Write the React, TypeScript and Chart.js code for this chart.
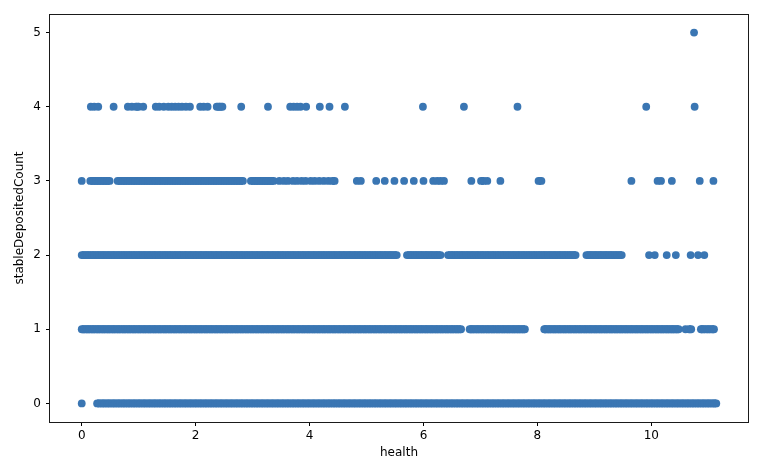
import React, { useEffect, useRef } from "react";
import { Chart, registerables } from "chart.js";

Chart.register(...registerables);

const xTicks = [0, 2, 4, 6, 8, 10];
const yTicks = [0, 1, 2, 3, 4, 5];
const xLabel = "health";
const yLabel = "stableDepositedCount";

// health values observed at each stableDepositedCount level
const healthAtCount0 = [
  0.0, 0.27, 0.31, 0.36, 0.4, 0.45, 0.49, 0.54, 0.58, 0.63, 0.67, 0.72, 0.76, 0.81, 0.85, 0.9, 0.94, 0.99, 1.03,
  1.08, 1.12, 1.17, 1.21, 1.26, 1.3, 1.35, 1.39, 1.44, 1.48, 1.53, 1.57, 1.62, 1.66, 1.71, 1.75, 1.8, 1.84, 1.89,
  1.93, 1.98, 2.02, 2.07, 2.11, 2.16, 2.2, 2.25, 2.29, 2.34, 2.38, 2.43, 2.47, 2.52, 2.56, 2.61, 2.65, 2.7, 2.74,
  2.79, 2.83, 2.88, 2.92, 2.97, 3.01, 3.06, 3.1, 3.15, 3.19, 3.24, 3.28, 3.33, 3.37, 3.42, 3.46, 3.51, 3.55, 3.6,
  3.64, 3.69, 3.73, 3.78, 3.82, 3.87, 3.91, 3.96, 4.0, 4.05, 4.09, 4.14, 4.18, 4.23, 4.27, 4.32, 4.36, 4.41, 4.45,
  4.5, 4.54, 4.59, 4.63, 4.68, 4.72, 4.77, 4.81, 4.86, 4.9, 4.95, 4.99, 5.04, 5.08, 5.13, 5.17, 5.22, 5.26, 5.31,
  5.35, 5.4, 5.44, 5.49, 5.53, 5.58, 5.62, 5.67, 5.71, 5.76, 5.8, 5.85, 5.89, 5.94, 5.98, 6.03, 6.07, 6.12, 6.16,
  6.21, 6.25, 6.3, 6.34, 6.39, 6.43, 6.48, 6.52, 6.57, 6.61, 6.66, 6.7, 6.75, 6.79, 6.84, 6.88, 6.93, 6.97, 7.02,
  7.06, 7.11, 7.15, 7.2, 7.24, 7.29, 7.33, 7.38, 7.42, 7.47, 7.51, 7.56, 7.6, 7.65, 7.69, 7.74, 7.78, 7.83, 7.87,
  7.92, 7.96, 8.01, 8.05, 8.1, 8.14, 8.19, 8.23, 8.28, 8.32, 8.37, 8.41, 8.46, 8.5, 8.55, 8.59, 8.64, 8.68, 8.73,
  8.77, 8.82, 8.86, 8.91, 8.95, 9.0, 9.04, 9.09, 9.13, 9.18, 9.22, 9.27, 9.31, 9.36, 9.4, 9.45, 9.49, 9.54, 9.58,
  9.63, 9.67, 9.72, 9.76, 9.81, 9.85, 9.9, 9.94, 9.99, 10.03, 10.08, 10.12, 10.17, 10.21, 10.26, 10.3, 10.35,
  10.39, 10.44, 10.48, 10.53, 10.57, 10.62, 10.66, 10.71, 10.75, 10.8, 10.84, 10.89, 10.93, 10.98, 11.02, 11.07,
  11.11, 11.14,
];

const healthAtCount1 = [
  0.0, 0.04, 0.09, 0.13, 0.18, 0.22, 0.27, 0.31, 0.36, 0.4, 0.45, 0.49, 0.54, 0.58, 0.63, 0.67, 0.72, 0.76, 0.81,
  0.85, 0.9, 0.94, 0.99, 1.03, 1.08, 1.12, 1.17, 1.21, 1.26, 1.3, 1.35, 1.39, 1.44, 1.48, 1.53, 1.57, 1.62, 1.66,
  1.71, 1.75, 1.8, 1.84, 1.89, 1.93, 1.98, 2.02, 2.07, 2.11, 2.16, 2.2, 2.25, 2.29, 2.34, 2.38, 2.43, 2.47, 2.52,
  2.56, 2.61, 2.65, 2.7, 2.74, 2.79, 2.83, 2.88, 2.92, 2.97, 3.01, 3.06, 3.1, 3.15, 3.19, 3.24, 3.28, 3.33, 3.37,
  3.42, 3.46, 3.51, 3.55, 3.6, 3.64, 3.69, 3.73, 3.78, 3.82, 3.87, 3.91, 3.96, 4.0, 4.05, 4.09, 4.14, 4.18, 4.23,
  4.27, 4.32, 4.36, 4.41, 4.45, 4.5, 4.54, 4.59, 4.63, 4.68, 4.72, 4.77, 4.81, 4.86, 4.9, 4.95, 4.99, 5.04, 5.08,
  5.13, 5.17, 5.22, 5.26, 5.31, 5.35, 5.4, 5.44, 5.49, 5.53, 5.58, 5.62, 5.67, 5.71, 5.76, 5.8, 5.85, 5.89, 5.94,
  5.98, 6.03, 6.07, 6.12, 6.16, 6.21, 6.25, 6.3, 6.34, 6.39, 6.43, 6.48, 6.52, 6.57, 6.61, 6.66,
  6.81, 6.84, 6.88, 6.93, 6.97, 7.02, 7.06, 7.11, 7.15, 7.2, 7.24, 7.29, 7.33, 7.38, 7.42, 7.47, 7.51, 7.56, 7.6,
  7.65, 7.69, 7.74, 7.78,
  8.12, 8.14, 8.19, 8.23, 8.28, 8.32, 8.37, 8.41, 8.46, 8.5, 8.55, 8.59, 8.64, 8.68, 8.73, 8.77, 8.82, 8.86, 8.91,
  8.95, 9.0, 9.04, 9.09, 9.13, 9.18, 9.22, 9.27, 9.31, 9.36, 9.4, 9.45, 9.49, 9.54, 9.58, 9.63, 9.67, 9.72, 9.76,
  9.81, 9.85, 9.9, 9.94, 9.99, 10.03, 10.08, 10.12, 10.17, 10.21, 10.26, 10.3, 10.35, 10.39, 10.44, 10.48,
  10.6, 10.66, 10.7,
  10.87, 10.89, 10.93, 10.98, 11.02, 11.07, 11.1,
];

const healthAtCount2 = [
  0.0, 0.04, 0.09, 0.13, 0.18, 0.22, 0.27, 0.31, 0.36, 0.4, 0.45, 0.49, 0.54, 0.58, 0.63, 0.67, 0.72, 0.76, 0.81,
  0.85, 0.9, 0.94, 0.99, 1.03, 1.08, 1.12, 1.17, 1.21, 1.26, 1.3, 1.35, 1.39, 1.44, 1.48, 1.53, 1.57, 1.62, 1.66,
  1.71, 1.75, 1.8, 1.84, 1.89, 1.93, 1.98, 2.02, 2.07, 2.11, 2.16, 2.2, 2.25, 2.29, 2.34, 2.38, 2.43, 2.47, 2.52,
  2.56, 2.61, 2.65, 2.7, 2.74, 2.79, 2.83, 2.88, 2.92, 2.97, 3.01, 3.06, 3.1, 3.15, 3.19, 3.24, 3.28, 3.33, 3.37,
  3.42, 3.46, 3.51, 3.55, 3.6, 3.64, 3.69, 3.73, 3.78, 3.82, 3.87, 3.91, 3.96, 4.0, 4.05, 4.09, 4.14, 4.18, 4.23,
  4.27, 4.32, 4.36, 4.41, 4.45, 4.5, 4.54, 4.59, 4.63, 4.68, 4.72, 4.77, 4.81, 4.86, 4.9, 4.95, 4.99, 5.04, 5.08,
  5.13, 5.17, 5.22, 5.26, 5.31, 5.35, 5.4, 5.44, 5.49, 5.53,
  5.71, 5.76, 5.8, 5.85, 5.89, 5.94, 5.98, 6.03, 6.07, 6.12, 6.16, 6.21, 6.25, 6.3,
  6.43, 6.48, 6.52, 6.57, 6.61, 6.66, 6.7, 6.75, 6.79, 6.84, 6.88, 6.93, 6.97, 7.02, 7.06, 7.11, 7.15, 7.2, 7.24,
  7.29, 7.33, 7.38, 7.42, 7.47, 7.51, 7.56, 7.6, 7.65, 7.69, 7.74, 7.78, 7.83, 7.87, 7.92, 7.96, 8.01, 8.05, 8.1,
  8.14, 8.19, 8.23, 8.28, 8.32, 8.37, 8.41, 8.46, 8.5, 8.55, 8.59, 8.64, 8.67,
  8.86, 8.91, 8.95, 9.0, 9.04, 9.09, 9.13, 9.18, 9.22, 9.27, 9.31, 9.36, 9.4, 9.45, 9.48,
  9.96, 10.06, 10.27, 10.43, 10.69, 10.82, 10.93,
];

const healthAtCount3 = [
  0.0, 0.15, 0.2, 0.25, 0.3, 0.35, 0.4, 0.45, 0.49,
  0.63, 0.67, 0.72, 0.76, 0.81, 0.85, 0.9, 0.94, 0.99, 1.03, 1.08, 1.12, 1.17, 1.21, 1.26, 1.3, 1.35, 1.39, 1.44,
  1.48, 1.53, 1.57, 1.62, 1.66, 1.71, 1.75, 1.8, 1.84, 1.89, 1.93, 1.98, 2.02, 2.07, 2.11, 2.16, 2.2, 2.25, 2.29,
  2.34, 2.38, 2.43, 2.47, 2.52, 2.56, 2.61, 2.65, 2.7, 2.74, 2.79, 2.83,
  2.97, 3.01, 3.06, 3.1, 3.15, 3.19, 3.24, 3.28, 3.33, 3.37,
  3.47, 3.55, 3.62, 3.71, 3.78, 3.86, 3.93, 4.02, 4.09, 4.17, 4.25, 4.33, 4.4, 4.44,
  4.83, 4.9, 5.17, 5.32, 5.49, 5.66, 5.83, 6.0, 6.17, 6.24, 6.3, 6.36, 6.84, 7.01, 7.06, 7.12, 7.35, 8.02, 8.07,
  9.65, 10.11, 10.17, 10.36, 10.85, 11.09,
];

const healthAtCount4 = [
  0.16, 0.22, 0.29, 0.56, 0.81, 0.88, 0.95, 1.0, 1.08, 1.3, 1.36, 1.44, 1.52, 1.58, 1.64, 1.7, 1.76, 1.83, 1.9,
  2.08, 2.14, 2.21, 2.37, 2.42, 2.47, 2.8, 3.27, 3.66, 3.72, 3.78, 3.84, 3.94, 4.18, 4.35, 4.62, 5.99, 6.71, 7.65,
  9.91, 10.76,
];

const healthAtCount5 = [10.75];

const countLevels = [0, 1, 2, 3, 4, 5];
const healthByLevel = [
  healthAtCount0,
  healthAtCount1,
  healthAtCount2,
  healthAtCount3,
  healthAtCount4,
  healthAtCount5,
];

const X_MIN = -0.557;
const X_MAX = 11.697;
const Y_MIN = -0.25;
const Y_MAX = 5.25;

const DOT_COLOR = "#3a76b3";
const DOT_RADIUS = 3.9;
const TOUCH_GAP = 0.056;

export default function App() {
  const ref = useRef<HTMLCanvasElement>(null);

  useEffect(() => {
    if (!ref.current) return;
    const points: { x: number; y: number }[] = [];
    countLevels.forEach((level, i) => {
      healthByLevel[i].forEach((h) => points.push({ x: h, y: level }));
    });

    const framePlugin = {
      id: "frame",
      afterDraw(chart: any) {
        const { ctx, chartArea } = chart;
        ctx.save();
        ctx.strokeStyle = "#1a1a1a";
        ctx.lineWidth = 1;
        ctx.strokeRect(
          Math.round(chartArea.left) - 0.5,
          Math.round(chartArea.top) + 0.5,
          Math.round(chartArea.right - chartArea.left) + 1,
          Math.round(chartArea.bottom - chartArea.top)
        );
        ctx.restore();
      },
    };

    const font = { family: "'DejaVu Sans', sans-serif", size: 12 };

    const chart = new Chart(ref.current, {
      type: "scatter",
      data: {
        datasets: [
          {
            data: points,
            backgroundColor: DOT_COLOR,
            pointBackgroundColor: DOT_COLOR,
            pointBorderWidth: 0,
            pointRadius: DOT_RADIUS,
            pointHoverRadius: DOT_RADIUS,
            // fill the tiny notches between overlapping neighbouring dots
            showLine: true,
            borderWidth: DOT_RADIUS * 2,
            borderColor: DOT_COLOR,
            tension: 0,
            fill: false,
            segment: {
              borderColor: (ctx: any) =>
                ctx.p0.parsed.y !== ctx.p1.parsed.y || Math.abs(ctx.p1.parsed.x - ctx.p0.parsed.x) > TOUCH_GAP
                  ? "rgba(0,0,0,0)"
                  : DOT_COLOR,
            },
          } as any,
        ],
      },
      options: {
        animation: false,
        responsive: true,
        maintainAspectRatio: false,
        layout: { padding: { left: 9, right: 24, top: 14, bottom: 0 } },
        plugins: { legend: { display: false }, tooltip: { enabled: false } },
        scales: {
          x: {
            type: "linear",
            min: X_MIN,
            max: X_MAX,
            afterFit: (scale: any) => {
              scale.height = 42;
            },
            afterBuildTicks: (scale: any) => {
              scale.ticks = xTicks.map((v) => ({ value: v }));
            },
            grid: {
              drawOnChartArea: false,
              drawTicks: true,
              tickLength: 4,
              color: "#000",
              lineWidth: 1,
            },
            border: { display: false },
            ticks: {
              font,
              color: "#000",
              padding: 3,
              maxRotation: 0,
              callback: (v: any) => String(v),
            },
            title: {
              display: true,
              text: xLabel,
              font,
              color: "#000",
              padding: { top: 4, bottom: 4 },
            },
          },
          y: {
            type: "linear",
            min: Y_MIN,
            max: Y_MAX,
            afterFit: (scale: any) => {
              scale.width = 41;
            },
            afterBuildTicks: (scale: any) => {
              scale.ticks = yTicks.map((v) => ({ value: v }));
            },
            grid: {
              drawOnChartArea: false,
              drawTicks: true,
              tickLength: 4,
              color: "#000",
              lineWidth: 1,
            },
            border: { display: false },
            ticks: {
              font,
              color: "#000",
              padding: 5,
              callback: (v: any) => String(v),
            },
            title: {
              display: true,
              text: yLabel,
              font,
              color: "#000",
              padding: { top: 4, bottom: 4 },
            },
          },
        },
      },
      plugins: [framePlugin],
    });

    return () => chart.destroy();
  }, []);

  return (
    <div style={{ position: "fixed", left: 0, top: 0, width: 772, height: 464, background: "#fff" }}>
      <canvas ref={ref} />
    </div>
  );
}
